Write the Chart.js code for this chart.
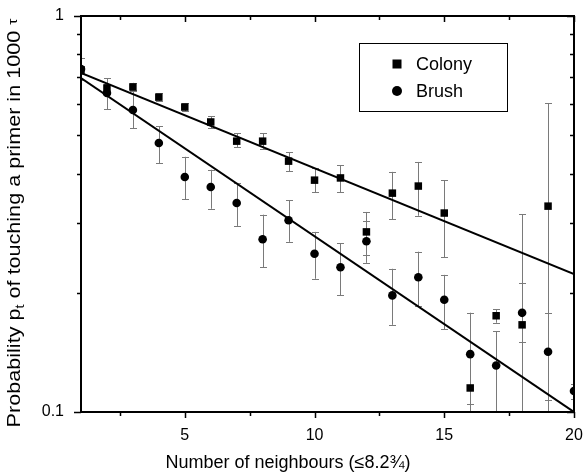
<!DOCTYPE html>
<html>
<head>
<meta charset="utf-8">
<script src="https://cdn.jsdelivr.net/npm/chart.js@4.4.1/dist/chart.umd.min.js"></script>
<style>
  html, body { margin: 0; padding: 0; background: #fff; }
  #wrap { width: 586px; height: 476px; }
</style>
</head>
<body>
<div id="wrap"><canvas id="c" width="586" height="476"></canvas></div>
<script>
// ---- data ----
const neighbours = [1,2,3,4,5,6,7,8,9,10,11,12,13,14,15,16,17,18,19,20];

const colony   = [0.730,0.658,0.662,0.624,0.589,0.540,0.483,0.483,0.430,0.385,0.390,0.285,0.357,0.372,0.318,0.115,0.175,0.166,0.331,null];
const colonyLo = [0.712,0.642,0.646,0.610,0.575,0.521,0.467,0.462,0.406,0.359,0.359,0.249,0.307,0.313,0.246,0.050,0.168,0.020,0.060,null];
const colonyHi = [0.748,0.674,0.678,0.639,0.603,0.559,0.506,0.506,0.453,0.413,0.420,0.320,0.404,0.428,0.385,0.178,0.182,0.316,0.603,null];

const brush    = [0.735,0.639,0.579,0.478,0.392,0.370,0.337,0.273,0.305,0.251,0.232,0.270,0.197,0.219,0.192,0.140,0.131,0.178,0.142,0.113];
const brushLo  = [0.690,0.582,0.521,0.425,0.345,0.326,0.295,0.232,0.269,0.217,0.197,0.238,0.166,0.185,0.162,0.105,0.100,0.150,0.107,0.108];
const brushHi  = [0.783,0.697,0.650,0.527,0.441,0.409,0.379,0.315,0.343,0.285,0.267,0.304,0.230,0.254,0.222,0.178,0.160,0.212,0.178,0.118];

// fitted exponential lines (end points)
const fitX      = [1, 20];
const colonyFit = [0.718, 0.223];
const brushFit  = [0.697, 0.100];

// ticks
const xMajorTicks = [5, 10, 15, 20];
const xMinorTicks = [2.5, 7.5, 12.5, 17.5];
const yMajorTicks = [0.1, 1];
const yMinorTicks = [0.2, 0.3, 0.4, 0.5, 0.6, 0.7, 0.8, 0.9];

const seriesNames = ['Colony', 'Brush'];
const xTitle = 'Number of neighbours (\u22648.2\u00BE)';
const FONT = '"Liberation Sans", Arial, Helvetica, sans-serif';

const pts = (xs, ys) => xs.map((x, i) => ({x: x, y: ys[i]})).filter(p => p.y !== null);

const decor = {
  id: 'decor',
  beforeDatasetsDraw(chart) {
    const {ctx, chartArea: a, scales: {x, y}} = chart;
    ctx.save();
    ctx.beginPath();
    ctx.rect(a.left, a.top, a.right - a.left, a.bottom - a.top);
    ctx.clip();
    ctx.strokeStyle = '#7a7a7a';
    ctx.lineWidth = 1;
    const bars = (vals, lo, hi) => {
      vals.forEach((v, i) => {
        if (v === null) return;
        const px = Math.round(x.getPixelForValue(neighbours[i])) + 0.5;
        const yl = y.getPixelForValue(Math.max(lo[i], 0.01));
        const yh = y.getPixelForValue(hi[i]);
        ctx.beginPath();
        ctx.moveTo(px, yl); ctx.lineTo(px, yh);
        ctx.moveTo(px - 3.5, Math.round(yh) + 0.5); ctx.lineTo(px + 3.5, Math.round(yh) + 0.5);
        ctx.moveTo(px - 3.5, Math.round(yl) + 0.5); ctx.lineTo(px + 3.5, Math.round(yl) + 0.5);
        ctx.stroke();
      });
    };
    bars(colony, colonyLo, colonyHi);
    bars(brush, brushLo, brushHi);
    ctx.restore();
  },
  afterDraw(chart) {
    const {ctx, chartArea: a, scales: {x, y}} = chart;
    ctx.save();
    ctx.strokeStyle = '#000';
    ctx.fillStyle = '#000';
    // frame
    ctx.lineWidth = 2;
    ctx.strokeRect(a.left, a.top, a.right - a.left, a.bottom - a.top);
    // x ticks: bottom outward, top inward
    ctx.lineWidth = 1.5;
    const xt = (vals, len) => vals.forEach(v => {
      const px = Math.round(x.getPixelForValue(v)) + 0.5;
      ctx.beginPath();
      ctx.moveTo(px, a.bottom); ctx.lineTo(px, a.bottom + len);
      ctx.moveTo(px, a.top); ctx.lineTo(px, a.top + len);
      ctx.stroke();
    });
    xt(xMajorTicks, 6); xt(xMinorTicks, 4);
    const yt = (vals, len) => vals.forEach(v => {
      const py = Math.round(y.getPixelForValue(v)) + 0.5;
      ctx.beginPath();
      ctx.moveTo(a.left, py); ctx.lineTo(a.left - len, py);
      ctx.moveTo(a.right, py); ctx.lineTo(a.right - len, py);
      ctx.stroke();
    });
    yt(yMajorTicks, 7); yt(yMinorTicks, 4);

    // legend box
    ctx.lineWidth = 1;
    ctx.strokeRect(359.5, 43.5, 148, 68);
    ctx.fillRect(392.5, 59.5, 9, 9);
    ctx.beginPath(); ctx.arc(397, 91, 5, 0, Math.PI * 2); ctx.fill();
    ctx.font = '18px ' + FONT;
    ctx.textBaseline = 'alphabetic';
    ctx.textAlign = 'left';
    ctx.fillText(seriesNames[0], 416, 70);
    ctx.fillText(seriesNames[1], 416, 97);

    // x title
    ctx.textAlign = 'center';
    ctx.font = '18px ' + FONT;
    ctx.fillText(xTitle, 288, 468);

    // y title with subscript (stretched along its length like the reference)
    ctx.translate(20, 223);
    ctx.rotate(-Math.PI / 2);
    ctx.scale(1.2, 1);
    const parts = [
      {t: 'Probability p', f: '18px ' + FONT, dy: 0},
      {t: 't', f: '12px ' + FONT, dy: 4},
      {t: ' of touching a primer in 1000 ', f: '18px ' + FONT, dy: 0},
      {t: '\u03C4', f: '13px ' + FONT, dy: -3}
    ];
    let total = 0;
    parts.forEach(p => { ctx.font = p.f; total += ctx.measureText(p.t).width; });
    let cx = -total / 2;
    ctx.textAlign = 'left';
    parts.forEach(p => {
      ctx.font = p.f;
      ctx.fillText(p.t, cx, p.dy);
      cx += ctx.measureText(p.t).width;
    });
    ctx.restore();
  }
};

const noPad = s => { s.paddingLeft = 0; s.paddingRight = 0; s.paddingTop = 0; s.paddingBottom = 0; };

new Chart(document.getElementById('c'), {
  type: 'scatter',
  data: {
    datasets: [
      { type: 'line', label: 'Colony fit', data: pts(fitX, colonyFit), borderColor: '#000', borderWidth: 2, pointRadius: 0, fill: false, tension: 0 },
      { type: 'line', label: 'Brush fit', data: pts(fitX, brushFit), borderColor: '#000', borderWidth: 2, pointRadius: 0, fill: false, tension: 0 },
      { label: seriesNames[0], data: pts(neighbours, colony), pointStyle: 'rect', pointRadius: 5.3, backgroundColor: '#000', borderColor: '#000', borderWidth: 0 },
      { label: seriesNames[1], data: pts(neighbours, brush), pointStyle: 'circle', pointRadius: 4.3, backgroundColor: '#000', borderColor: '#000', borderWidth: 0 }
    ]
  },
  options: {
    responsive: false,
    animation: false,
    devicePixelRatio: 1,
    layout: { padding: { top: 16, right: 12, left: 0, bottom: 0 } },
    plugins: { legend: { display: false }, tooltip: { enabled: false } },
    scales: {
      x: {
        type: 'linear', min: 1, max: 20,
        afterBuildTicks: s => { s.ticks = xMajorTicks.map(v => ({value: v})); },
        afterFit: s => { s.height = 64; noPad(s); },
        grid: { display: false, drawTicks: false },
        border: { display: false },
        ticks: { color: '#000', font: { family: FONT, size: 16 }, padding: 14, maxRotation: 0, autoSkip: false }
      },
      y: {
        type: 'logarithmic', min: 0.1, max: 1,
        afterBuildTicks: s => { s.ticks = yMajorTicks.map(v => ({value: v})); },
        afterFit: s => { s.width = 81; noPad(s); },
        grid: { display: false, drawTicks: false },
        border: { display: false },
        ticks: { color: '#000', font: { family: FONT, size: 16 }, padding: 17, autoSkip: false,
                 callback: v => (v === 1 ? '1' : v === 0.1 ? '0.1' : '') }
      }
    }
  },
  plugins: [decor]
});
</script>
</body>
</html>
